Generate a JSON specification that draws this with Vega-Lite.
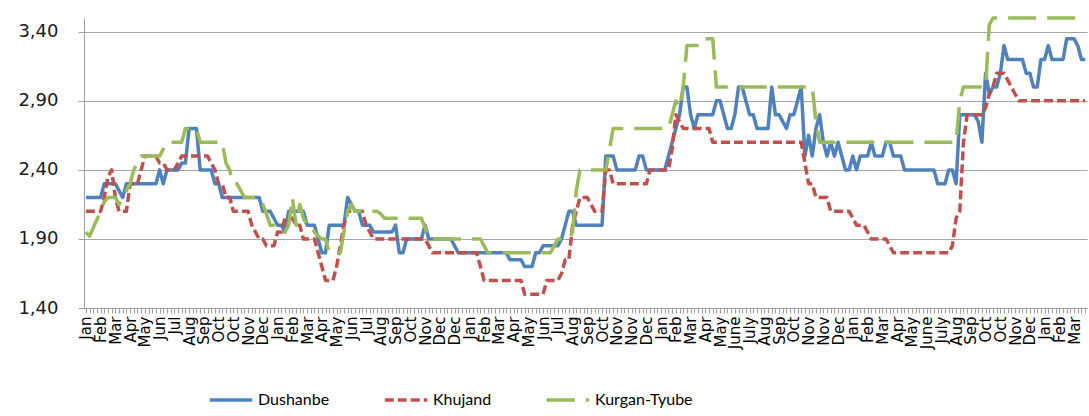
{
"$schema": "https://vega.github.io/schema/vega-lite/v6.json",
"width": 1003, "height": 290,
"autosize": {"type": "none"},
"padding": {"left": 84, "top": 18, "right": 2, "bottom": 108},
"background": "white",
"config": {"view": {"stroke": null}},
"data": {"values": [
{"i":0,"Dushanbe":2.2,"Khujand":2.1,"Kurgan-Tyube":1.95},
{"i":1,"Dushanbe":2.2,"Khujand":2.1,"Kurgan-Tyube":1.92},
{"i":2,"Dushanbe":2.2,"Khujand":2.1,"Kurgan-Tyube":1.98},
{"i":3,"Dushanbe":2.2,"Khujand":2.1,"Kurgan-Tyube":2.04},
{"i":4,"Dushanbe":2.2,"Khujand":2.1,"Kurgan-Tyube":2.1},
{"i":5,"Dushanbe":2.3,"Khujand":2.2,"Kurgan-Tyube":2.17},
{"i":6,"Dushanbe":2.3,"Khujand":2.35,"Kurgan-Tyube":2.2},
{"i":7,"Dushanbe":2.3,"Khujand":2.4,"Kurgan-Tyube":2.2},
{"i":8,"Dushanbe":2.3,"Khujand":2.2,"Kurgan-Tyube":2.2},
{"i":9,"Dushanbe":2.25,"Khujand":2.1,"Kurgan-Tyube":2.15},
{"i":10,"Dushanbe":2.2,"Khujand":2.1,"Kurgan-Tyube":2.2},
{"i":11,"Dushanbe":2.3,"Khujand":2.1,"Kurgan-Tyube":2.25},
{"i":12,"Dushanbe":2.3,"Khujand":2.3,"Kurgan-Tyube":2.3},
{"i":13,"Dushanbe":2.3,"Khujand":2.3,"Kurgan-Tyube":2.4},
{"i":14,"Dushanbe":2.3,"Khujand":2.3,"Kurgan-Tyube":2.45},
{"i":15,"Dushanbe":2.3,"Khujand":2.4,"Kurgan-Tyube":2.5},
{"i":16,"Dushanbe":2.3,"Khujand":2.5,"Kurgan-Tyube":2.5},
{"i":17,"Dushanbe":2.3,"Khujand":2.5,"Kurgan-Tyube":2.5},
{"i":18,"Dushanbe":2.3,"Khujand":2.5,"Kurgan-Tyube":2.5},
{"i":19,"Dushanbe":2.3,"Khujand":2.5,"Kurgan-Tyube":2.5},
{"i":20,"Dushanbe":2.4,"Khujand":2.45,"Kurgan-Tyube":2.5},
{"i":21,"Dushanbe":2.3,"Khujand":2.45,"Kurgan-Tyube":2.55},
{"i":22,"Dushanbe":2.4,"Khujand":2.4,"Kurgan-Tyube":2.6},
{"i":23,"Dushanbe":2.4,"Khujand":2.4,"Kurgan-Tyube":2.6},
{"i":24,"Dushanbe":2.4,"Khujand":2.4,"Kurgan-Tyube":2.6},
{"i":25,"Dushanbe":2.4,"Khujand":2.45,"Kurgan-Tyube":2.6},
{"i":26,"Dushanbe":2.45,"Khujand":2.5,"Kurgan-Tyube":2.6},
{"i":27,"Dushanbe":2.45,"Khujand":2.5,"Kurgan-Tyube":2.7},
{"i":28,"Dushanbe":2.7,"Khujand":2.5,"Kurgan-Tyube":2.7},
{"i":29,"Dushanbe":2.7,"Khujand":2.5,"Kurgan-Tyube":2.7},
{"i":30,"Dushanbe":2.7,"Khujand":2.5,"Kurgan-Tyube":2.7},
{"i":31,"Dushanbe":2.4,"Khujand":2.5,"Kurgan-Tyube":2.6},
{"i":32,"Dushanbe":2.4,"Khujand":2.5,"Kurgan-Tyube":2.6},
{"i":33,"Dushanbe":2.4,"Khujand":2.5,"Kurgan-Tyube":2.6},
{"i":34,"Dushanbe":2.4,"Khujand":2.45,"Kurgan-Tyube":2.6},
{"i":35,"Dushanbe":2.3,"Khujand":2.4,"Kurgan-Tyube":2.6},
{"i":36,"Dushanbe":2.3,"Khujand":2.3,"Kurgan-Tyube":2.6},
{"i":37,"Dushanbe":2.2,"Khujand":2.3,"Kurgan-Tyube":2.6},
{"i":38,"Dushanbe":2.2,"Khujand":2.2,"Kurgan-Tyube":2.45},
{"i":39,"Dushanbe":2.2,"Khujand":2.2,"Kurgan-Tyube":2.4},
{"i":40,"Dushanbe":2.2,"Khujand":2.1,"Kurgan-Tyube":2.3},
{"i":41,"Dushanbe":2.2,"Khujand":2.1,"Kurgan-Tyube":2.3},
{"i":42,"Dushanbe":2.2,"Khujand":2.1,"Kurgan-Tyube":2.25},
{"i":43,"Dushanbe":2.2,"Khujand":2.1,"Kurgan-Tyube":2.2},
{"i":44,"Dushanbe":2.2,"Khujand":2.1,"Kurgan-Tyube":2.2},
{"i":45,"Dushanbe":2.2,"Khujand":2.0,"Kurgan-Tyube":2.2},
{"i":46,"Dushanbe":2.2,"Khujand":1.95,"Kurgan-Tyube":2.2},
{"i":47,"Dushanbe":2.2,"Khujand":1.9,"Kurgan-Tyube":2.15},
{"i":48,"Dushanbe":2.1,"Khujand":1.9,"Kurgan-Tyube":2.15},
{"i":49,"Dushanbe":2.1,"Khujand":1.85,"Kurgan-Tyube":2.08},
{"i":50,"Dushanbe":2.1,"Khujand":1.85,"Kurgan-Tyube":2.0},
{"i":51,"Dushanbe":2.05,"Khujand":1.85,"Kurgan-Tyube":2.0},
{"i":52,"Dushanbe":2.0,"Khujand":1.95,"Kurgan-Tyube":1.98},
{"i":53,"Dushanbe":2.0,"Khujand":1.95,"Kurgan-Tyube":1.95},
{"i":54,"Dushanbe":1.95,"Khujand":2.05,"Kurgan-Tyube":1.95},
{"i":55,"Dushanbe":2.1,"Khujand":2.05,"Kurgan-Tyube":2.0},
{"i":56,"Dushanbe":2.1,"Khujand":2.05,"Kurgan-Tyube":2.2},
{"i":57,"Dushanbe":2.1,"Khujand":2.0,"Kurgan-Tyube":2.0},
{"i":58,"Dushanbe":2.1,"Khujand":2.0,"Kurgan-Tyube":2.15},
{"i":59,"Dushanbe":2.1,"Khujand":1.9,"Kurgan-Tyube":2.05},
{"i":60,"Dushanbe":2.0,"Khujand":1.9,"Kurgan-Tyube":2.0},
{"i":61,"Dushanbe":2.0,"Khujand":1.9,"Kurgan-Tyube":2.0},
{"i":62,"Dushanbe":2.0,"Khujand":1.9,"Kurgan-Tyube":1.95},
{"i":63,"Dushanbe":1.9,"Khujand":1.8,"Kurgan-Tyube":1.92},
{"i":64,"Dushanbe":1.8,"Khujand":1.7,"Kurgan-Tyube":1.9},
{"i":65,"Dushanbe":1.8,"Khujand":1.6,"Kurgan-Tyube":1.9},
{"i":66,"Dushanbe":2.0,"Khujand":1.6,"Kurgan-Tyube":1.8},
{"i":67,"Dushanbe":2.0,"Khujand":1.6,"Kurgan-Tyube":1.8},
{"i":68,"Dushanbe":2.0,"Khujand":1.7,"Kurgan-Tyube":1.8},
{"i":69,"Dushanbe":2.0,"Khujand":1.85,"Kurgan-Tyube":1.8},
{"i":70,"Dushanbe":2.0,"Khujand":2.0,"Kurgan-Tyube":1.95},
{"i":71,"Dushanbe":2.2,"Khujand":2.1,"Kurgan-Tyube":2.1},
{"i":72,"Dushanbe":2.15,"Khujand":2.1,"Kurgan-Tyube":2.15},
{"i":73,"Dushanbe":2.1,"Khujand":2.1,"Kurgan-Tyube":2.1},
{"i":74,"Dushanbe":2.1,"Khujand":2.1,"Kurgan-Tyube":2.1},
{"i":75,"Dushanbe":2.0,"Khujand":2.1,"Kurgan-Tyube":2.1},
{"i":76,"Dushanbe":2.0,"Khujand":2.0,"Kurgan-Tyube":2.1},
{"i":77,"Dushanbe":2.0,"Khujand":1.95,"Kurgan-Tyube":2.1},
{"i":78,"Dushanbe":1.95,"Khujand":1.9,"Kurgan-Tyube":2.1},
{"i":79,"Dushanbe":1.95,"Khujand":1.9,"Kurgan-Tyube":2.1},
{"i":80,"Dushanbe":1.95,"Khujand":1.9,"Kurgan-Tyube":2.08},
{"i":81,"Dushanbe":1.95,"Khujand":1.9,"Kurgan-Tyube":2.05},
{"i":82,"Dushanbe":1.95,"Khujand":1.9,"Kurgan-Tyube":2.05},
{"i":83,"Dushanbe":1.95,"Khujand":1.9,"Kurgan-Tyube":2.05},
{"i":84,"Dushanbe":2.0,"Khujand":1.9,"Kurgan-Tyube":2.05},
{"i":85,"Dushanbe":1.8,"Khujand":1.9,"Kurgan-Tyube":2.05},
{"i":86,"Dushanbe":1.8,"Khujand":1.9,"Kurgan-Tyube":2.05},
{"i":87,"Dushanbe":1.9,"Khujand":1.9,"Kurgan-Tyube":2.05},
{"i":88,"Dushanbe":1.9,"Khujand":1.9,"Kurgan-Tyube":2.05},
{"i":89,"Dushanbe":1.9,"Khujand":1.9,"Kurgan-Tyube":2.05},
{"i":90,"Dushanbe":1.9,"Khujand":1.9,"Kurgan-Tyube":2.05},
{"i":91,"Dushanbe":1.9,"Khujand":1.9,"Kurgan-Tyube":2.05},
{"i":92,"Dushanbe":2.0,"Khujand":1.9,"Kurgan-Tyube":1.98},
{"i":93,"Dushanbe":1.9,"Khujand":1.85,"Kurgan-Tyube":1.9},
{"i":94,"Dushanbe":1.9,"Khujand":1.8,"Kurgan-Tyube":1.9},
{"i":95,"Dushanbe":1.9,"Khujand":1.8,"Kurgan-Tyube":1.9},
{"i":96,"Dushanbe":1.9,"Khujand":1.8,"Kurgan-Tyube":1.9},
{"i":97,"Dushanbe":1.9,"Khujand":1.8,"Kurgan-Tyube":1.9},
{"i":98,"Dushanbe":1.9,"Khujand":1.8,"Kurgan-Tyube":1.9},
{"i":99,"Dushanbe":1.9,"Khujand":1.8,"Kurgan-Tyube":1.9},
{"i":100,"Dushanbe":1.85,"Khujand":1.8,"Kurgan-Tyube":1.9},
{"i":101,"Dushanbe":1.8,"Khujand":1.8,"Kurgan-Tyube":1.9},
{"i":102,"Dushanbe":1.8,"Khujand":1.8,"Kurgan-Tyube":1.9},
{"i":103,"Dushanbe":1.8,"Khujand":1.8,"Kurgan-Tyube":1.9},
{"i":104,"Dushanbe":1.8,"Khujand":1.8,"Kurgan-Tyube":1.9},
{"i":105,"Dushanbe":1.8,"Khujand":1.8,"Kurgan-Tyube":1.9},
{"i":106,"Dushanbe":1.8,"Khujand":1.8,"Kurgan-Tyube":1.9},
{"i":107,"Dushanbe":1.8,"Khujand":1.7,"Kurgan-Tyube":1.9},
{"i":108,"Dushanbe":1.8,"Khujand":1.6,"Kurgan-Tyube":1.85},
{"i":109,"Dushanbe":1.8,"Khujand":1.6,"Kurgan-Tyube":1.8},
{"i":110,"Dushanbe":1.8,"Khujand":1.6,"Kurgan-Tyube":1.8},
{"i":111,"Dushanbe":1.8,"Khujand":1.6,"Kurgan-Tyube":1.8},
{"i":112,"Dushanbe":1.8,"Khujand":1.6,"Kurgan-Tyube":1.8},
{"i":113,"Dushanbe":1.8,"Khujand":1.6,"Kurgan-Tyube":1.8},
{"i":114,"Dushanbe":1.8,"Khujand":1.6,"Kurgan-Tyube":1.8},
{"i":115,"Dushanbe":1.75,"Khujand":1.6,"Kurgan-Tyube":1.8},
{"i":116,"Dushanbe":1.75,"Khujand":1.6,"Kurgan-Tyube":1.8},
{"i":117,"Dushanbe":1.75,"Khujand":1.6,"Kurgan-Tyube":1.8},
{"i":118,"Dushanbe":1.75,"Khujand":1.6,"Kurgan-Tyube":1.8},
{"i":119,"Dushanbe":1.7,"Khujand":1.5,"Kurgan-Tyube":1.8},
{"i":120,"Dushanbe":1.7,"Khujand":1.5,"Kurgan-Tyube":1.8},
{"i":121,"Dushanbe":1.7,"Khujand":1.5,"Kurgan-Tyube":1.8},
{"i":122,"Dushanbe":1.8,"Khujand":1.5,"Kurgan-Tyube":1.8},
{"i":123,"Dushanbe":1.8,"Khujand":1.5,"Kurgan-Tyube":1.8},
{"i":124,"Dushanbe":1.85,"Khujand":1.5,"Kurgan-Tyube":1.8},
{"i":125,"Dushanbe":1.85,"Khujand":1.6,"Kurgan-Tyube":1.8},
{"i":126,"Dushanbe":1.85,"Khujand":1.6,"Kurgan-Tyube":1.8},
{"i":127,"Dushanbe":1.85,"Khujand":1.6,"Kurgan-Tyube":1.85},
{"i":128,"Dushanbe":1.85,"Khujand":1.6,"Kurgan-Tyube":1.9},
{"i":129,"Dushanbe":1.9,"Khujand":1.65,"Kurgan-Tyube":1.9},
{"i":130,"Dushanbe":2.0,"Khujand":1.75,"Kurgan-Tyube":1.9},
{"i":131,"Dushanbe":2.1,"Khujand":1.75,"Kurgan-Tyube":1.9},
{"i":132,"Dushanbe":2.1,"Khujand":2.0,"Kurgan-Tyube":1.95},
{"i":133,"Dushanbe":2.0,"Khujand":2.1,"Kurgan-Tyube":2.25},
{"i":134,"Dushanbe":2.0,"Khujand":2.2,"Kurgan-Tyube":2.4},
{"i":135,"Dushanbe":2.0,"Khujand":2.2,"Kurgan-Tyube":2.4},
{"i":136,"Dushanbe":2.0,"Khujand":2.2,"Kurgan-Tyube":2.4},
{"i":137,"Dushanbe":2.0,"Khujand":2.15,"Kurgan-Tyube":2.4},
{"i":138,"Dushanbe":2.0,"Khujand":2.1,"Kurgan-Tyube":2.4},
{"i":139,"Dushanbe":2.0,"Khujand":2.1,"Kurgan-Tyube":2.4},
{"i":140,"Dushanbe":2.0,"Khujand":2.1,"Kurgan-Tyube":2.4},
{"i":141,"Dushanbe":2.5,"Khujand":2.4,"Kurgan-Tyube":2.4},
{"i":142,"Dushanbe":2.5,"Khujand":2.4,"Kurgan-Tyube":2.55},
{"i":143,"Dushanbe":2.5,"Khujand":2.3,"Kurgan-Tyube":2.7},
{"i":144,"Dushanbe":2.4,"Khujand":2.3,"Kurgan-Tyube":2.7},
{"i":145,"Dushanbe":2.4,"Khujand":2.3,"Kurgan-Tyube":2.7},
{"i":146,"Dushanbe":2.4,"Khujand":2.3,"Kurgan-Tyube":2.7},
{"i":147,"Dushanbe":2.4,"Khujand":2.3,"Kurgan-Tyube":2.7},
{"i":148,"Dushanbe":2.4,"Khujand":2.3,"Kurgan-Tyube":2.7},
{"i":149,"Dushanbe":2.4,"Khujand":2.3,"Kurgan-Tyube":2.7},
{"i":150,"Dushanbe":2.5,"Khujand":2.3,"Kurgan-Tyube":2.7},
{"i":151,"Dushanbe":2.5,"Khujand":2.3,"Kurgan-Tyube":2.7},
{"i":152,"Dushanbe":2.4,"Khujand":2.3,"Kurgan-Tyube":2.7},
{"i":153,"Dushanbe":2.4,"Khujand":2.4,"Kurgan-Tyube":2.7},
{"i":154,"Dushanbe":2.4,"Khujand":2.4,"Kurgan-Tyube":2.7},
{"i":155,"Dushanbe":2.4,"Khujand":2.4,"Kurgan-Tyube":2.7},
{"i":156,"Dushanbe":2.4,"Khujand":2.4,"Kurgan-Tyube":2.7},
{"i":157,"Dushanbe":2.4,"Khujand":2.4,"Kurgan-Tyube":2.7},
{"i":158,"Dushanbe":2.5,"Khujand":2.4,"Kurgan-Tyube":2.7},
{"i":159,"Dushanbe":2.6,"Khujand":2.55,"Kurgan-Tyube":2.8},
{"i":160,"Dushanbe":2.7,"Khujand":2.8,"Kurgan-Tyube":2.9},
{"i":161,"Dushanbe":2.8,"Khujand":2.75,"Kurgan-Tyube":2.85},
{"i":162,"Dushanbe":3.0,"Khujand":2.7,"Kurgan-Tyube":3.0},
{"i":163,"Dushanbe":3.0,"Khujand":2.7,"Kurgan-Tyube":3.3},
{"i":164,"Dushanbe":2.8,"Khujand":2.7,"Kurgan-Tyube":3.3},
{"i":165,"Dushanbe":2.7,"Khujand":2.7,"Kurgan-Tyube":3.3},
{"i":166,"Dushanbe":2.8,"Khujand":2.7,"Kurgan-Tyube":3.3},
{"i":167,"Dushanbe":2.8,"Khujand":2.7,"Kurgan-Tyube":3.3},
{"i":168,"Dushanbe":2.8,"Khujand":2.7,"Kurgan-Tyube":3.35},
{"i":169,"Dushanbe":2.8,"Khujand":2.7,"Kurgan-Tyube":3.35},
{"i":170,"Dushanbe":2.8,"Khujand":2.6,"Kurgan-Tyube":3.35},
{"i":171,"Dushanbe":2.9,"Khujand":2.6,"Kurgan-Tyube":3.0},
{"i":172,"Dushanbe":2.9,"Khujand":2.6,"Kurgan-Tyube":3.0},
{"i":173,"Dushanbe":2.8,"Khujand":2.6,"Kurgan-Tyube":3.0},
{"i":174,"Dushanbe":2.7,"Khujand":2.6,"Kurgan-Tyube":3.0},
{"i":175,"Dushanbe":2.7,"Khujand":2.6,"Kurgan-Tyube":3.0},
{"i":176,"Dushanbe":2.8,"Khujand":2.6,"Kurgan-Tyube":3.0},
{"i":177,"Dushanbe":3.0,"Khujand":2.6,"Kurgan-Tyube":3.0},
{"i":178,"Dushanbe":3.0,"Khujand":2.6,"Kurgan-Tyube":3.0},
{"i":179,"Dushanbe":2.9,"Khujand":2.6,"Kurgan-Tyube":3.0},
{"i":180,"Dushanbe":2.8,"Khujand":2.6,"Kurgan-Tyube":3.0},
{"i":181,"Dushanbe":2.8,"Khujand":2.6,"Kurgan-Tyube":3.0},
{"i":182,"Dushanbe":2.7,"Khujand":2.6,"Kurgan-Tyube":3.0},
{"i":183,"Dushanbe":2.7,"Khujand":2.6,"Kurgan-Tyube":3.0},
{"i":184,"Dushanbe":2.7,"Khujand":2.6,"Kurgan-Tyube":3.0},
{"i":185,"Dushanbe":2.7,"Khujand":2.6,"Kurgan-Tyube":3.0},
{"i":186,"Dushanbe":3.0,"Khujand":2.6,"Kurgan-Tyube":3.0},
{"i":187,"Dushanbe":2.8,"Khujand":2.6,"Kurgan-Tyube":3.0},
{"i":188,"Dushanbe":2.8,"Khujand":2.6,"Kurgan-Tyube":3.0},
{"i":189,"Dushanbe":2.75,"Khujand":2.6,"Kurgan-Tyube":3.0},
{"i":190,"Dushanbe":2.7,"Khujand":2.6,"Kurgan-Tyube":3.0},
{"i":191,"Dushanbe":2.8,"Khujand":2.6,"Kurgan-Tyube":3.0},
{"i":192,"Dushanbe":2.8,"Khujand":2.6,"Kurgan-Tyube":3.0},
{"i":193,"Dushanbe":2.9,"Khujand":2.6,"Kurgan-Tyube":3.0},
{"i":194,"Dushanbe":3.0,"Khujand":2.6,"Kurgan-Tyube":3.0},
{"i":195,"Dushanbe":2.5,"Khujand":2.45,"Kurgan-Tyube":3.0},
{"i":196,"Dushanbe":2.65,"Khujand":2.3,"Kurgan-Tyube":3.0},
{"i":197,"Dushanbe":2.5,"Khujand":2.3,"Kurgan-Tyube":3.0},
{"i":198,"Dushanbe":2.7,"Khujand":2.2,"Kurgan-Tyube":2.75},
{"i":199,"Dushanbe":2.8,"Khujand":2.2,"Kurgan-Tyube":2.6},
{"i":200,"Dushanbe":2.6,"Khujand":2.2,"Kurgan-Tyube":2.6},
{"i":201,"Dushanbe":2.5,"Khujand":2.2,"Kurgan-Tyube":2.6},
{"i":202,"Dushanbe":2.6,"Khujand":2.1,"Kurgan-Tyube":2.6},
{"i":203,"Dushanbe":2.5,"Khujand":2.1,"Kurgan-Tyube":2.6},
{"i":204,"Dushanbe":2.6,"Khujand":2.1,"Kurgan-Tyube":2.6},
{"i":205,"Dushanbe":2.5,"Khujand":2.1,"Kurgan-Tyube":2.6},
{"i":206,"Dushanbe":2.4,"Khujand":2.1,"Kurgan-Tyube":2.6},
{"i":207,"Dushanbe":2.4,"Khujand":2.1,"Kurgan-Tyube":2.6},
{"i":208,"Dushanbe":2.5,"Khujand":2.05,"Kurgan-Tyube":2.6},
{"i":209,"Dushanbe":2.4,"Khujand":2.0,"Kurgan-Tyube":2.6},
{"i":210,"Dushanbe":2.5,"Khujand":2.0,"Kurgan-Tyube":2.6},
{"i":211,"Dushanbe":2.5,"Khujand":2.0,"Kurgan-Tyube":2.6},
{"i":212,"Dushanbe":2.5,"Khujand":1.95,"Kurgan-Tyube":2.6},
{"i":213,"Dushanbe":2.6,"Khujand":1.9,"Kurgan-Tyube":2.6},
{"i":214,"Dushanbe":2.5,"Khujand":1.9,"Kurgan-Tyube":2.6},
{"i":215,"Dushanbe":2.5,"Khujand":1.9,"Kurgan-Tyube":2.6},
{"i":216,"Dushanbe":2.5,"Khujand":1.9,"Kurgan-Tyube":2.6},
{"i":217,"Dushanbe":2.6,"Khujand":1.9,"Kurgan-Tyube":2.6},
{"i":218,"Dushanbe":2.6,"Khujand":1.85,"Kurgan-Tyube":2.6},
{"i":219,"Dushanbe":2.5,"Khujand":1.8,"Kurgan-Tyube":2.6},
{"i":220,"Dushanbe":2.5,"Khujand":1.8,"Kurgan-Tyube":2.6},
{"i":221,"Dushanbe":2.5,"Khujand":1.8,"Kurgan-Tyube":2.6},
{"i":222,"Dushanbe":2.4,"Khujand":1.8,"Kurgan-Tyube":2.6},
{"i":223,"Dushanbe":2.4,"Khujand":1.8,"Kurgan-Tyube":2.6},
{"i":224,"Dushanbe":2.4,"Khujand":1.8,"Kurgan-Tyube":2.6},
{"i":225,"Dushanbe":2.4,"Khujand":1.8,"Kurgan-Tyube":2.6},
{"i":226,"Dushanbe":2.4,"Khujand":1.8,"Kurgan-Tyube":2.6},
{"i":227,"Dushanbe":2.4,"Khujand":1.8,"Kurgan-Tyube":2.6},
{"i":228,"Dushanbe":2.4,"Khujand":1.8,"Kurgan-Tyube":2.6},
{"i":229,"Dushanbe":2.4,"Khujand":1.8,"Kurgan-Tyube":2.6},
{"i":230,"Dushanbe":2.4,"Khujand":1.8,"Kurgan-Tyube":2.6},
{"i":231,"Dushanbe":2.3,"Khujand":1.8,"Kurgan-Tyube":2.6},
{"i":232,"Dushanbe":2.3,"Khujand":1.8,"Kurgan-Tyube":2.6},
{"i":233,"Dushanbe":2.3,"Khujand":1.8,"Kurgan-Tyube":2.6},
{"i":234,"Dushanbe":2.4,"Khujand":1.8,"Kurgan-Tyube":2.6},
{"i":235,"Dushanbe":2.4,"Khujand":1.85,"Kurgan-Tyube":2.6},
{"i":236,"Dushanbe":2.3,"Khujand":2.05,"Kurgan-Tyube":2.6},
{"i":237,"Dushanbe":2.8,"Khujand":2.1,"Kurgan-Tyube":2.9},
{"i":238,"Dushanbe":2.8,"Khujand":2.6,"Kurgan-Tyube":3.0},
{"i":239,"Dushanbe":2.8,"Khujand":2.8,"Kurgan-Tyube":3.0},
{"i":240,"Dushanbe":2.8,"Khujand":2.8,"Kurgan-Tyube":3.0},
{"i":241,"Dushanbe":2.8,"Khujand":2.8,"Kurgan-Tyube":3.0},
{"i":242,"Dushanbe":2.75,"Khujand":2.8,"Kurgan-Tyube":3.0},
{"i":243,"Dushanbe":2.6,"Khujand":2.8,"Kurgan-Tyube":3.0},
{"i":244,"Dushanbe":3.1,"Khujand":2.85,"Kurgan-Tyube":3.0},
{"i":245,"Dushanbe":2.95,"Khujand":2.95,"Kurgan-Tyube":3.45},
{"i":246,"Dushanbe":3.0,"Khujand":3.0,"Kurgan-Tyube":3.5},
{"i":247,"Dushanbe":3.0,"Khujand":3.1,"Kurgan-Tyube":3.5},
{"i":248,"Dushanbe":3.1,"Khujand":3.1,"Kurgan-Tyube":3.5},
{"i":249,"Dushanbe":3.3,"Khujand":3.1,"Kurgan-Tyube":3.5},
{"i":250,"Dushanbe":3.2,"Khujand":3.05,"Kurgan-Tyube":3.5},
{"i":251,"Dushanbe":3.2,"Khujand":3.0,"Kurgan-Tyube":3.5},
{"i":252,"Dushanbe":3.2,"Khujand":2.95,"Kurgan-Tyube":3.5},
{"i":253,"Dushanbe":3.2,"Khujand":2.9,"Kurgan-Tyube":3.5},
{"i":254,"Dushanbe":3.2,"Khujand":2.9,"Kurgan-Tyube":3.5},
{"i":255,"Dushanbe":3.1,"Khujand":2.9,"Kurgan-Tyube":3.5},
{"i":256,"Dushanbe":3.1,"Khujand":2.9,"Kurgan-Tyube":3.5},
{"i":257,"Dushanbe":3.0,"Khujand":2.9,"Kurgan-Tyube":3.5},
{"i":258,"Dushanbe":3.0,"Khujand":2.9,"Kurgan-Tyube":3.5},
{"i":259,"Dushanbe":3.2,"Khujand":2.9,"Kurgan-Tyube":3.5},
{"i":260,"Dushanbe":3.2,"Khujand":2.9,"Kurgan-Tyube":3.5},
{"i":261,"Dushanbe":3.3,"Khujand":2.9,"Kurgan-Tyube":3.5},
{"i":262,"Dushanbe":3.2,"Khujand":2.9,"Kurgan-Tyube":3.5},
{"i":263,"Dushanbe":3.2,"Khujand":2.9,"Kurgan-Tyube":3.5},
{"i":264,"Dushanbe":3.2,"Khujand":2.9,"Kurgan-Tyube":3.5},
{"i":265,"Dushanbe":3.2,"Khujand":2.9,"Kurgan-Tyube":3.5},
{"i":266,"Dushanbe":3.35,"Khujand":2.9,"Kurgan-Tyube":3.5},
{"i":267,"Dushanbe":3.35,"Khujand":2.9,"Kurgan-Tyube":3.5},
{"i":268,"Dushanbe":3.35,"Khujand":2.9,"Kurgan-Tyube":3.5},
{"i":269,"Dushanbe":3.3,"Khujand":2.9,"Kurgan-Tyube":3.5},
{"i":270,"Dushanbe":3.2,"Khujand":2.9,"Kurgan-Tyube":3.5},
{"i":271,"Dushanbe":3.2,"Khujand":2.9,"Kurgan-Tyube":3.5}
]},
"transform": [{"fold": ["Dushanbe", "Khujand", "Kurgan-Tyube"], "as": ["city", "price"]}],
"mark": {"type": "line", "strokeWidth": 3.5, "strokeJoin": "round"},
"encoding": {
  "x": {"field": "i", "type": "ordinal", "scale": {"type": "point", "padding": 0.5},
    "axis": {"title": null, "grid": false, "labelAngle": 270, "labelAlign": "right", "labelBaseline": "middle",
      "labelOverlap": false, "labelBound": false, "labelFlush": false, "labelPadding": 3,
      "labelFont": "DejaVu Sans", "labelFontSize": 15, "labelColor": "#000000",
      "tickSize": 5, "tickColor": "#a0a0a0", "tickWidth": 1, "domainColor": "#a0a0a0", "domainWidth": 1,
      "labelExpr": "datum.value % 4 == 0 ? ['Jan','Feb','Mar','Apr','May','Jun','Jul','Aug','Sep','Oct','Oct','Nov','Dec','Jan','Feb','Mar','Apr','May','Jun','Jul','Aug','Sep','Oct','Nov','Dec','Dec','Jan','Feb','Mar','Apr','May','Jun','Jul','Aug','Sep','Oct','Nov','Nov','Dec','Jan','Feb','Mar','Apr','May','June','July','Aug','Sep','Oct','Nov','Nov','Dec','Jan','Feb','Mar','Apr','May','June','July','Aug','Sep','Oct','Oct','Nov','Dec','Jan','Feb','Mar'][datum.value / 4] : ''"}},
  "y": {"field": "price", "type": "quantitative", "scale": {"domain": [1.4, 3.5], "nice": false, "zero": false},
    "axis": {"title": null, "values": [1.4, 1.9, 2.4, 2.9, 3.4], "grid": true, "gridColor": "#a6a6a6", "gridWidth": 1,
      "labelExpr": "replace(format(datum.value, '.2f'), '.', ',')",
      "labelFont": "DejaVu Sans", "labelFontSize": 18, "labelColor": "#1a1a1a", "labelPadding": 20,
      "tickSize": 6, "tickColor": "#a0a0a0", "domainColor": "#a0a0a0"}},
  "color": {"field": "city", "type": "nominal",
    "scale": {"domain": ["Dushanbe", "Khujand", "Kurgan-Tyube"], "range": ["#4F81BD", "#C0504D", "#9BBB59"]},
    "legend": {"title": null, "orient": "none", "legendX": 124, "legendY": 359, "direction": "horizontal",
      "symbolType": "stroke", "symbolSize": 1800, "symbolStrokeWidth": 3.5,
      "labelFont": "Lato", "labelFontSize": 16, "labelColor": "#000000", "labelOffset": 4, "columnPadding": 47}},
  "strokeDash": {"field": "city", "type": "nominal",
    "scale": {"domain": ["Dushanbe", "Khujand", "Kurgan-Tyube"], "range": [[1, 0], [9, 4], [28, 11]]},
    "legend": {"title": null, "orient": "none", "legendX": 124, "legendY": 359, "direction": "horizontal",
      "symbolType": "stroke", "symbolSize": 1800, "symbolStrokeWidth": 3.5,
      "labelFont": "Lato", "labelFontSize": 16, "labelColor": "#000000", "labelOffset": 4, "columnPadding": 47}}
}
}
